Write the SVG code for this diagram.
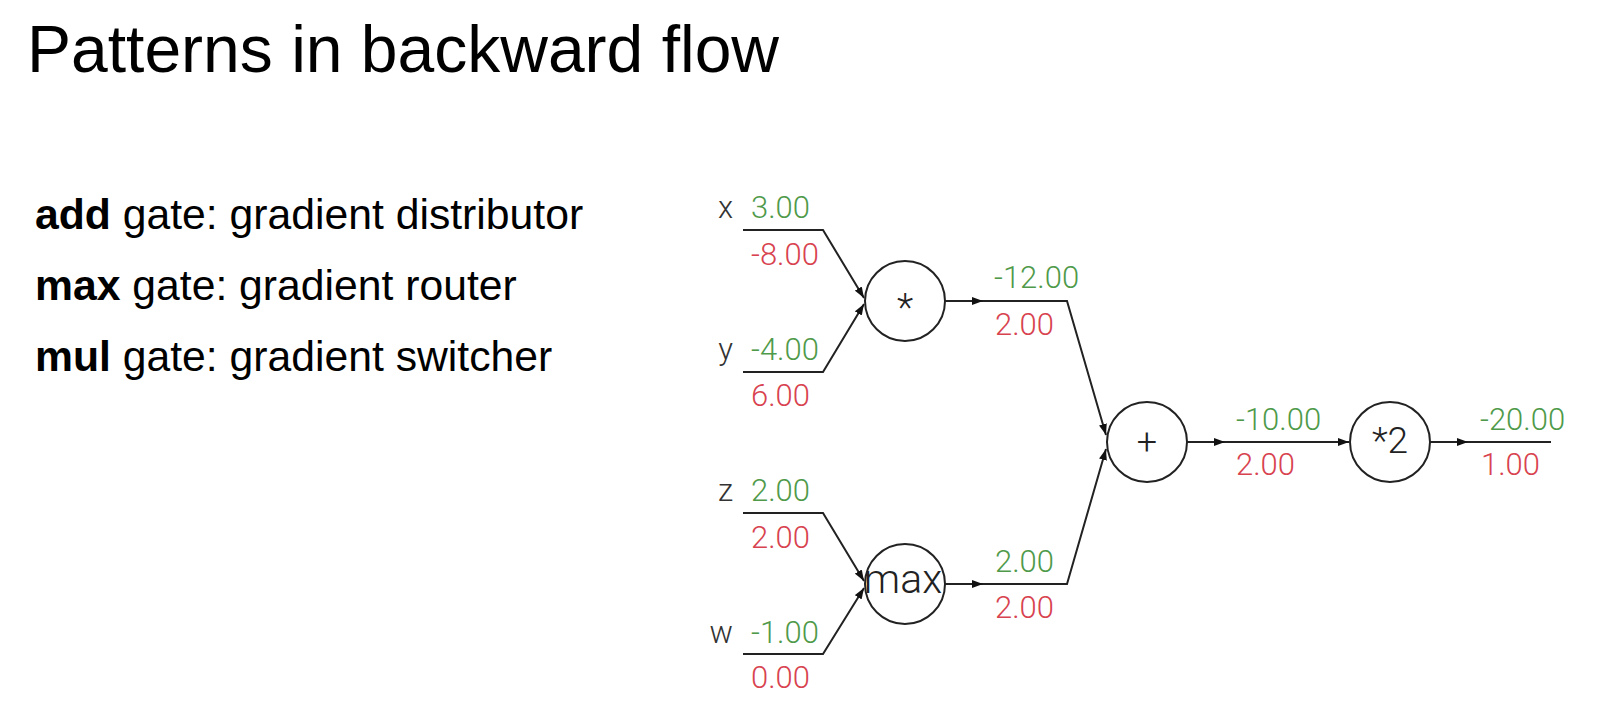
<svg xmlns="http://www.w3.org/2000/svg" width="1608" height="718" viewBox="0 0 1608 718">
<defs>
<style>
.title{font-family:"Liberation Sans",Arial,sans-serif;font-size:66px;fill:#000}
.bul{font-family:"Liberation Sans",Arial,sans-serif;font-size:42.7px;fill:#000}
.bul tspan.b{font-weight:bold}
.v{font-family:Roboto,"Noto Sans",sans-serif;font-weight:300;font-size:31px}
.g{fill:#4f9a4a}
.r{fill:#d8434f}
.lab{font-family:Roboto,"Noto Sans",sans-serif;font-weight:300;font-size:31px;fill:#333;text-anchor:end}
.node circle{fill:#fff;stroke:#222;stroke-width:2}
.node text{font-family:Roboto,"Noto Sans",sans-serif;font-weight:300;font-size:36px;fill:#222;text-anchor:middle}
.edge{fill:none;stroke:#222;stroke-width:2}
</style>
<marker id="ah" viewBox="0 0 11 8" refX="11" refY="4" markerWidth="11" markerHeight="8" markerUnits="userSpaceOnUse" orient="auto">
<path d="M0,0 L11,4 L0,8 Z" fill="#111"/>
</marker>
</defs>
<rect width="1608" height="718" fill="#fff"/>
<text class="title" x="27" y="72">Patterns in backward flow</text>
<text class="bul" x="35" y="229"><tspan class="b">add</tspan> gate: gradient distributor</text>
<text class="bul" x="35" y="300"><tspan class="b">max</tspan> gate: gradient router</text>
<text class="bul" x="35" y="371"><tspan class="b">mul</tspan> gate: gradient switcher</text>

<g id="connectors">
<path class="edge" d="M743,230 H823 L864,298" marker-end="url(#ah)"/>
<path class="edge" d="M743,372 H823 L864,304" marker-end="url(#ah)"/>
<path class="edge" d="M743,513 H823 L864,581" marker-end="url(#ah)"/>
<path class="edge" d="M743,654 H823 L864,588" marker-end="url(#ah)"/>
<path class="edge" d="M945,301 H983" marker-end="url(#ah)"/>
<path class="edge" d="M983,301 H1067 L1106,435" marker-end="url(#ah)"/>
<path class="edge" d="M945,584 H983" marker-end="url(#ah)"/>
<path class="edge" d="M983,584 H1067 L1106,449" marker-end="url(#ah)"/>
<path class="edge" d="M1187,442 H1225" marker-end="url(#ah)"/>
<path class="edge" d="M1225,442 H1349" marker-end="url(#ah)"/>
<path class="edge" d="M1430,442 H1468" marker-end="url(#ah)"/>
<path class="edge" d="M1468,442 H1551"/>
</g>

<g id="edge-labels">
<text class="lab" x="733" y="218">x</text>
<text class="v g" x="751" y="218">3.00</text>
<text class="v r" x="751" y="265">-8.00</text>
<text class="lab" x="733" y="360">y</text>
<text class="v g" x="751" y="360">-4.00</text>
<text class="v r" x="751" y="406">6.00</text>
<text class="lab" x="733" y="501">z</text>
<text class="v g" x="751" y="501">2.00</text>
<text class="v r" x="751" y="548">2.00</text>
<text class="lab" x="733" y="643">w</text>
<text class="v g" x="751" y="643">-1.00</text>
<text class="v r" x="751" y="688">0.00</text>
<text class="v g" x="994" y="288">-12.00</text>
<text class="v r" x="995" y="335">2.00</text>
<text class="v g" x="995" y="572">2.00</text>
<text class="v r" x="995" y="618">2.00</text>
<text class="v g" x="1236" y="430">-10.00</text>
<text class="v r" x="1236" y="475">2.00</text>
<text class="v g" x="1480" y="430">-20.00</text>
<text class="v r" x="1481" y="475">1.00</text>
</g>

<g id="node-mul" class="node">
<circle cx="905" cy="301" r="40"/>
<text x="905" y="321" style="font-size:38px">*</text>
</g>
<g id="node-max" class="node">
<circle cx="905" cy="584" r="40"/>
<text x="903" y="593" style="font-size:41px">max</text>
</g>
<g id="node-add" class="node">
<circle cx="1147" cy="442" r="40"/>
<text x="1147" y="454">+</text>
</g>
<g id="node-mul2" class="node">
<circle cx="1390" cy="442" r="40"/>
<text x="1390" y="453" style="font-size:37px">*2</text>
</g>
</svg>
